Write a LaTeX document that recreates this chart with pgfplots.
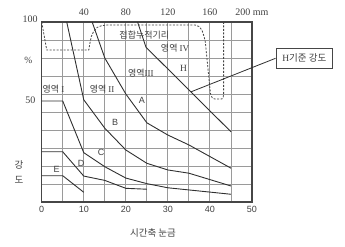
\documentclass[border=0pt]{standalone}
\usepackage{fontspec}
\setmainfont{Liberation Sans}
\newfontfamily\krfont{Noto Sans CJK KR}
\newfontfamily\serif{Liberation Serif}
\usepackage{pgfplots}
\pgfplotsset{compat=1.18}
\definecolor{txt}{HTML}{404040}
\definecolor{gridc}{HTML}{9A9A9A}
\definecolor{curve}{HTML}{303030}
\definecolor{dash}{HTML}{454545}
\tikzset{cv/.style={line width=0.9bp, draw=curve, mark=none}}
\begin{document}
\begin{tikzpicture}
\path[use as bounding box] (0bp,0bp) rectangle (345bp,247bp);
\begin{axis}[
  at={(41.7bp,45bp)}, anchor=south west,
  width=210.3bp, height=180bp, scale only axis,
  xmin=0, xmax=50, ymin=0, ymax=10,
  xtick={0,10,...,50}, minor xtick={5,15,...,45},
  ytick={0,1,...,10}, yticklabels={},
  /pgf/number format/assume math mode=true,
  grid=both,
  major grid style={draw=gridc, line width=0.9bp},
  minor grid style={draw=gridc, line width=0.9bp},
  axis line style={draw=gray!55!black, line width=1.1bp},
  tick style={draw=none},
  xticklabel style={font=\fontsize{9bp}{10bp}\selectfont, text=txt, yshift=-1bp},
  clip=false,
]
% A
\addplot[cv] coordinates {(12.0,10) (15,8.0) (20,6.0) (25,4.4) (30,3.72) (35,3.17) (45,1.88)};
% B
\addplot[cv] coordinates {(5.95,10) (10,5.68) (15,4.1) (20,2.89) (25,2.15) (30,1.78) (35,1.6) (45,0.89)};
% C
\addplot[cv] coordinates {(0,5.61) (5,5.61) (10,2.74) (15,1.96) (20,1.33) (25,1.02) (30,0.79) (35,0.67) (45,0.43)};
% D
\addplot[cv] coordinates {(0,2.79) (5,2.79) (10,1.44) (15,1.2) (20,0.76) (25,0.71)};
% E
\addplot[cv] coordinates {(0,1.46) (5,1.46) (10,0.54)};
% H
\addplot[cv] coordinates {(22.8,10) (24.8,8.6) (45,3.9)};
% dashed boundary
\addplot[draw=dash, mark=none, line width=0.8bp, dash pattern=on 2bp off 1.5bp] coordinates {
 (0,10) (1.2,8.44) (11.2,8.44) (11.4,8.75) (11.8,9.2) (12.4,9.5) (13.2,9.7) (14.3,9.8) (15.5,9.83)
 (36.5,9.83) (37.4,9.75) (38.1,9.55) (38.6,9.2) (38.9,8.9) (40.0,6.3) (40.2,5.95) (40.6,5.77)
 (41.2,5.72) (42.8,5.72) (43.15,5.8) (43.25,6.0) (43.25,10)};
% labels
\begin{scope}[every node/.style={text=txt, inner sep=0pt}]
\node[font=\krfont\fontsize{9bp}{10bp}\selectfont] at (axis cs:24.4,9.28) {접합누적기리};
\node[font=\krfont\fontsize{9bp}{10bp}\selectfont] at (axis cs:2.8,6.28) {영역 {\serif I}};
\node[font=\krfont\fontsize{9bp}{10bp}\selectfont] at (axis cs:14.36,6.28) {영역 {\serif II}};
\node[font=\krfont\fontsize{9bp}{10bp}\selectfont] at (axis cs:23.6,7.17) {영역{\serif III}};
\node[font=\krfont\fontsize{9bp}{10bp}\selectfont] at (axis cs:31.7,8.56) {영역 {\serif IV}};
\node[font=\fontsize{9bp}{10bp}\selectfont] at (axis cs:23.8,5.67) {A};
\node[font=\fontsize{9bp}{10bp}\selectfont] at (axis cs:17.45,4.4) {B};
\node[font=\fontsize{9bp}{10bp}\selectfont] at (axis cs:14.1,2.74) {C};
\node[font=\fontsize{9bp}{10bp}\selectfont] at (axis cs:9.36,2.17) {D};
\node[font=\fontsize{9bp}{10bp}\selectfont] at (axis cs:3.57,1.83) {E};
\node[font=\serif\fontsize{9.5bp}{10bp}\selectfont] at (axis cs:33.7,7.43) {H};
\node[font=\serif\fontsize{10bp}{11bp}\selectfont, yshift=10bp] at (axis cs:10,10) {40};
\node[font=\serif\fontsize{10bp}{11bp}\selectfont, yshift=10bp] at (axis cs:20,10) {80};
\node[font=\serif\fontsize{10bp}{11bp}\selectfont, yshift=10bp] at (axis cs:30,10) {120};
\node[font=\serif\fontsize{10bp}{11bp}\selectfont, yshift=10bp] at (axis cs:40,10) {160};
\node[font=\serif\fontsize{10bp}{11bp}\selectfont, yshift=10bp] at (axis cs:50,10) {200 mm};
\end{scope}
\coordinate (hl) at (axis cs:35.5,6.12);
\end{axis}
\begin{scope}[every node/.style={text=txt, inner sep=0pt}]
\node[font=\serif\fontsize{10bp}{11bp}\selectfont] at (30bp,227.7bp) {100};
\node[font=\serif\fontsize{9.5bp}{10bp}\selectfont] at (28.3bp,187bp) {\%};
\node[font=\serif\fontsize{10bp}{11bp}\selectfont] at (30.3bp,147bp) {50};
\node[font=\krfont\fontsize{9.5bp}{10bp}\selectfont] at (19bp,82bp) {강};
\node[font=\krfont\fontsize{9.5bp}{10bp}\selectfont] at (19bp,67bp) {도};
\node[font=\krfont\fontsize{9.5bp}{10bp}\selectfont] at (153bp,14bp) {시간축 눈금};
\node[draw=gray!55!black, line width=0.8bp, fill=white, minimum width=56.7bp, minimum height=20bp,
      font=\fontsize{9.5bp}{10bp}\selectfont] (box) at (304.3bp,188.7bp) {{\serif H}{\krfont 기준 강도}};
\end{scope}
\draw[line width=0.8bp, color=curve] (hl) -- (box.west);
\end{tikzpicture}
\end{document}
